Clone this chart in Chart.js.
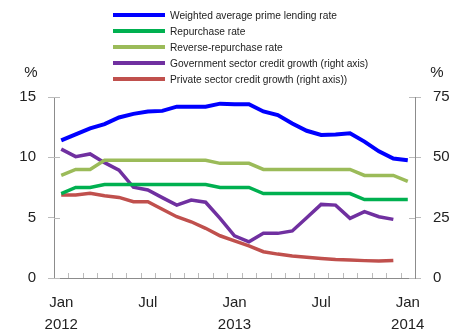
<!DOCTYPE html>
<html>
<head>
    <meta charset="UTF-8">
    <title>Interest rates and credit growth</title>
    <script src="https://cdn.jsdelivr.net/npm/chart.js@4.4.1/dist/chart.umd.min.js"></script>
    <style>
        html, body { margin: 0; padding: 0; background: #fff; }
        .wrap { position: relative; width: 453px; height: 331px; }
        .legend {
            position: absolute; left: 113px; top: 7px;
            font-family: "Liberation Sans", Arial, sans-serif; font-size: 10.2px; color: #222;
        }
        .legend .row { display: flex; align-items: center; height: 16px; }
        .legend .swatch { width: 52px; height: 3.5px; margin-right: 5px; }
    </style>
</head>
<body>
<div class="wrap">
    <canvas id="chart"></canvas>
    <div class="legend" id="legend"></div>
</div>
<script>
    // monthly, Jan 2012 .. Jan 2014
    const months = ['Jan 2012','Feb 2012','Mar 2012','Apr 2012','May 2012','Jun 2012','Jul 2012','Aug 2012','Sep 2012','Oct 2012','Nov 2012','Dec 2012',
                    'Jan 2013','Feb 2013','Mar 2013','Apr 2013','May 2013','Jun 2013','Jul 2013','Aug 2013','Sep 2013','Oct 2013','Nov 2013','Dec 2013','Jan 2014'];
    const tickLabels = { 0: ['Jan', '2012'], 6: 'Jul', 12: ['Jan', '2013'], 18: 'Jul', 24: ['Jan', '2014'] };

    const primeRate   = [11.4, 11.9, 12.4, 12.75, 13.3, 13.6, 13.8, 13.85, 14.2, 14.2, 14.2, 14.45, 14.4, 14.4, 13.8, 13.5, 12.8, 12.2, 11.85, 11.9, 12.0, 11.3, 10.5, 9.9, 9.75];
    const repoRate    = [7.0, 7.5, 7.5, 7.75, 7.75, 7.75, 7.75, 7.75, 7.75, 7.75, 7.75, 7.5, 7.5, 7.5, 7.0, 7.0, 7.0, 7.0, 7.0, 7.0, 7.0, 6.5, 6.5, 6.5, 6.5];
    const reverseRepo = [8.5, 9.0, 9.0, 9.75, 9.75, 9.75, 9.75, 9.75, 9.75, 9.75, 9.75, 9.5, 9.5, 9.5, 9.0, 9.0, 9.0, 9.0, 9.0, 9.0, 9.0, 8.5, 8.5, 8.5, 8.0];
    const govCredit   = [53.4, 50.3, 51.4, 47.8, 44.7, 37.6, 36.5, 33.3, 30.2, 32.3, 31.4, 24.7, 17.5, 15.0, 18.5, 18.5, 19.5, 25.0, 30.5, 30.2, 24.7, 27.5, 25.4, 24.3, null];
    const privCredit  = [34.4, 34.4, 35.1, 34.1, 33.4, 31.6, 31.6, 28.5, 25.4, 23.3, 20.6, 17.5, 15.4, 13.3, 10.9, 9.9, 9.1, 8.6, 8.1, 7.7, 7.5, 7.2, 7.0, 7.3, null];

    const series = [
        { label: 'Weighted average prime lending rate', data: primeRate, color: '#0000ff', width: 4, axis: 'y' },
        { label: 'Repurchase rate', data: repoRate, color: '#00b050', width: 3.5, axis: 'y' },
        { label: 'Reverse-repurchase rate', data: reverseRepo, color: '#9bbb59', width: 3.5, axis: 'y' },
        { label: 'Government sector credit growth (right axis)', data: govCredit, color: '#7030a0', width: 3.5, axis: 'y1' },
        { label: 'Private sector credit growth (right axis))', data: privCredit, color: '#c0504d', width: 3.5, axis: 'y1' }
    ];

    // legend
    const legend = document.getElementById('legend');
    series.forEach(s => {
        const row = document.createElement('div');
        row.className = 'row';
        row.innerHTML = `<span class="swatch" style="background:${s.color}"></span><span>${s.label}</span>`;
        legend.appendChild(row);
    });

    const font = { family: '"Liberation Sans", Arial, sans-serif', size: 15, lineHeight: '22px' };
    const axisGrey = '#8c8c8c';

    // small tick marks and % titles
    const extras = {
        id: 'extras',
        afterDraw(chart) {
            const ctx = chart.ctx;
            const area = chart.chartArea;
            const x = chart.scales.x;
            const y = chart.scales.y;
            ctx.save();
            ctx.strokeStyle = '#bbbbbb';
            ctx.lineWidth = 1;
            const half = (x.getPixelForValue(1) - x.getPixelForValue(0)) / 2;
            for (let i = 1; i < months.length; i++) {
                const px = Math.round(x.getPixelForValue(i) - half) + 0.5;
                ctx.beginPath();
                ctx.moveTo(px, area.bottom);
                ctx.lineTo(px, area.bottom - 5);
                ctx.stroke();
            }
            y.ticks.forEach(t => {
                const py = Math.round(y.getPixelForValue(t.value)) + 0.5;
                ctx.beginPath();
                ctx.moveTo(area.left, py);
                ctx.lineTo(area.left + 6, py);
                ctx.moveTo(area.right, py);
                ctx.lineTo(area.right - 6, py);
                ctx.stroke();
            });
            ctx.fillStyle = '#222';
            ctx.font = `15px ${font.family}`;
            ctx.textAlign = 'center';
            ctx.textBaseline = 'middle';
            ctx.fillText('%', 31, 73);
            ctx.fillText('%', 437, 73);
            ctx.restore();
        }
    };

    new Chart(document.getElementById('chart'), {
        type: 'line',
        data: {
            labels: months,
            datasets: series.map(s => ({
                label: s.label,
                data: s.data,
                borderColor: s.color,
                backgroundColor: s.color,
                borderWidth: s.width,
                pointRadius: 0,
                tension: 0,
                yAxisID: s.axis
            }))
        },
        options: {
            responsive: true,
            maintainAspectRatio: false,
            animation: false,
            layout: { padding: { top: 97, left: 0, right: 0, bottom: 0 } },
            plugins: { legend: { display: false }, tooltip: { enabled: false } },
            scales: {
                x: {
                    offset: true,
                    grid: { display: false, drawTicks: false, offset: true },
                    border: { color: axisGrey, width: 1 },
                    ticks: {
                        autoSkip: false, maxRotation: 0, padding: 14,
                        color: '#222', font: font,
                        callback: (v, i) => tickLabels[i] || ''
                    },
                    afterFit(scale) { scale.height = 53; }
                },
                y: {
                    position: 'left', min: 0, max: 15,
                    ticks: { stepSize: 5, padding: 12, color: '#222', font: font },
                    grid: { drawOnChartArea: false, tickLength: 6, color: '#bbbbbb' },
                    border: { color: axisGrey, width: 1 },
                    afterFit(scale) { scale.width = 54; }
                },
                y1: {
                    position: 'right', min: 0, max: 75,
                    ticks: { stepSize: 25, padding: 12, color: '#222', font: font },
                    grid: { drawOnChartArea: false, tickLength: 6, color: '#bbbbbb' },
                    border: { color: axisGrey, width: 1 },
                    afterFit(scale) { scale.width = 38; }
                }
            }
        },
        plugins: [extras]
    });
</script>
</body>
</html>
